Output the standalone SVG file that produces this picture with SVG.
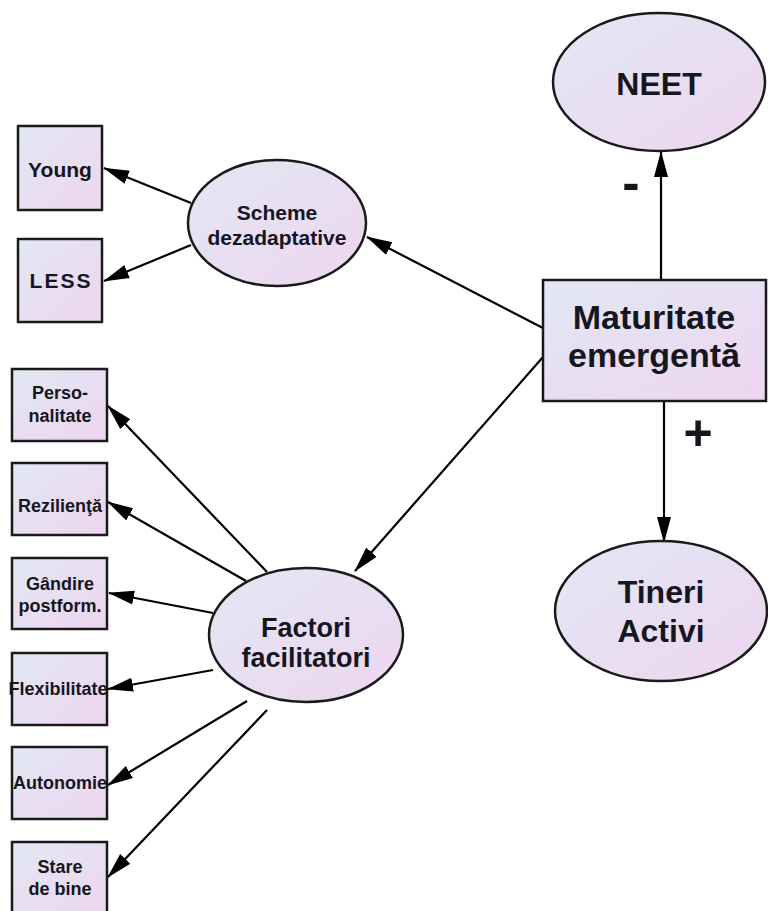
<svg xmlns="http://www.w3.org/2000/svg" width="768" height="911" viewBox="0 0 768 911">
<defs>
<linearGradient id="g" x1="0" y1="0" x2="1" y2="1">
<stop offset="0" stop-color="#e2e8f4"/>
<stop offset="1" stop-color="#eed5ef"/>
</linearGradient>
<marker id="ah" markerUnits="userSpaceOnUse" markerWidth="26" markerHeight="16" refX="25" refY="8" orient="auto">
<path d="M0,1 L26,8 L0,15 Z" fill="#000"/>
</marker>
<style>
.n{fill:url(#g);stroke:#1a1a1a;stroke-width:2.5}
.t{font-family:"Liberation Sans",Arial,sans-serif;font-weight:bold;fill:#16161f;text-anchor:middle}
.c{stroke:#000;stroke-width:2.2;fill:none;marker-end:url(#ah)}
</style>
</defs>
<rect width="768" height="911" fill="#fff"/>
<g id="connectors">
<line class="c" x1="661" y1="280" x2="661" y2="152"/>
<line class="c" x1="664" y1="401" x2="664" y2="542"/>
<line class="c" x1="543" y1="328" x2="367" y2="237"/>
<line class="c" x1="543" y1="357" x2="355" y2="571"/>
<line class="c" x1="191" y1="203" x2="104" y2="168"/>
<line class="c" x1="191" y1="245" x2="104" y2="281"/>
<line class="c" x1="267" y1="572" x2="108" y2="406"/>
<line class="c" x1="246" y1="581" x2="108" y2="502"/>
<line class="c" x1="213" y1="613" x2="109" y2="593"/>
<line class="c" x1="213" y1="670" x2="108" y2="689"/>
<line class="c" x1="247" y1="701" x2="108" y2="785"/>
<line class="c" x1="267" y1="710" x2="108" y2="877"/>
<text class="t" x="631" y="200" font-size="52">-</text>
<text class="t" x="698" y="450" font-size="50">+</text>
</g>
<g id="neet">
<ellipse class="n" cx="659" cy="82" rx="106" ry="69"/>
<text class="t" x="659" y="95" font-size="32">NEET</text>
</g>
<g id="maturitate">
<rect class="n" x="543" y="280" width="223" height="121"/>
<text class="t" x="654" y="329" font-size="34">Maturitate</text>
<text class="t" x="654" y="367" font-size="34">emergentă</text>
</g>
<g id="tineri">
<ellipse class="n" cx="661" cy="611" rx="106" ry="70"/>
<text class="t" x="661" y="603" font-size="32">Tineri</text>
<text class="t" x="661" y="642" font-size="32">Activi</text>
</g>
<g id="scheme">
<ellipse class="n" cx="277" cy="223" rx="89" ry="63"/>
<text class="t" x="277" y="220" font-size="21">Scheme</text>
<text class="t" x="277" y="245" font-size="21">dezadaptative</text>
</g>
<g id="young">
<rect class="n" x="18" y="126" width="84" height="84"/>
<text class="t" x="60" y="177" font-size="21">Young</text>
</g>
<g id="less">
<rect class="n" x="18" y="239" width="84" height="83"/>
<text class="t" x="61" y="288" font-size="21" letter-spacing="2">LESS</text>
</g>
<g id="factori">
<ellipse class="n" cx="306" cy="635" rx="97" ry="67"/>
<text class="t" x="306" y="637" font-size="27">Factori</text>
<text class="t" x="306" y="667" font-size="27">facilitatori</text>
</g>
<g id="personalitate">
<rect class="n" x="12" y="369" width="95" height="72"/>
<text class="t" x="60" y="399" font-size="18">Perso-</text>
<text class="t" x="60" y="422" font-size="18">nalitate</text>
</g>
<g id="rezilienta">
<rect class="n" x="12" y="463" width="95" height="72"/>
<text class="t" x="60" y="512" font-size="18">Rezilienţă</text>
</g>
<g id="gandire">
<rect class="n" x="12" y="558" width="95" height="71"/>
<text class="t" x="60" y="590" font-size="18">Gândire</text>
<text class="t" x="60" y="612" font-size="18">postform.</text>
</g>
<g id="flexibilitate">
<rect class="n" x="12" y="653" width="95" height="72"/>
<text class="t" x="58" y="695" font-size="18">Flexibilitate</text>
</g>
<g id="autonomie">
<rect class="n" x="12" y="747" width="95" height="72"/>
<text class="t" x="60" y="789" font-size="18">Autonomie</text>
</g>
<g id="stare">
<rect class="n" x="12" y="842" width="95" height="74"/>
<text class="t" x="60" y="873" font-size="18">Stare</text>
<text class="t" x="60" y="895" font-size="18">de bine</text>
</g>
</svg>
